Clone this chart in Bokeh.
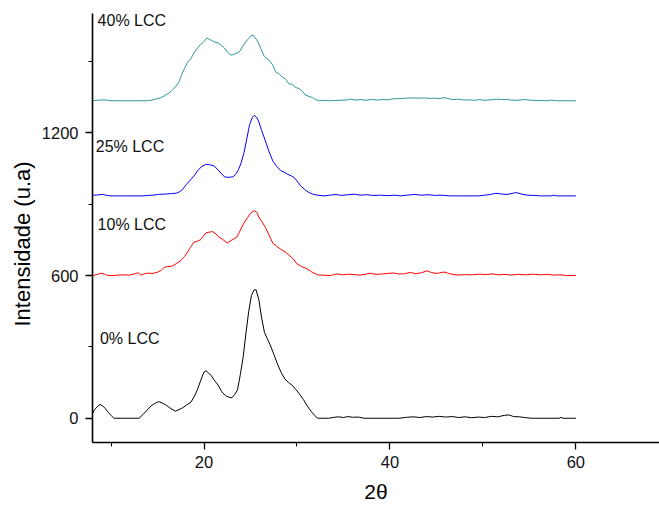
from bokeh.plotting import figure
from bokeh.models import FixedTicker, Range1d, ColumnDataSource, Title
from bokeh.core.properties import value
from bokeh.embed import file_html
from bokeh.resources import INLINE

# ---------------- data ----------------
series_names = ["0% LCC", "10% LCC", "25% LCC", "40% LCC"]
series_colors = ["#000000", "#ff0000", "#0000ff", "#2f9797"]
offsets = [0, 600, 935, 1335]

x0 = [8.0, 8.2, 8.5, 8.8, 9.1, 9.4, 9.7, 10.0, 10.3, 11.0, 12.0, 13.0, 13.5, 13.9, 14.3, 14.7,
      15.1, 15.5, 15.9, 16.3, 16.9, 17.3, 17.7, 18.1, 18.6, 19.0, 19.3, 19.7, 20.0, 20.2, 20.5,
      20.8, 21.1, 21.5, 21.9, 22.3, 22.7, 23.0, 23.3, 23.6, 23.9, 24.2, 24.5, 24.8, 25.1, 25.4,
      25.6, 25.9, 26.2, 26.5, 26.8, 27.1, 27.5, 27.9, 28.3, 28.7, 29.1, 29.5, 29.9, 30.3, 30.7,
      31.1, 31.5, 31.9, 32.2,
      32.6, 33.4, 34.0, 34.5, 35.0, 35.5, 36.0, 36.6, 37.2, 38.5, 40.0, 41.0, 41.8, 42.5, 43.2,
      43.9, 44.6, 45.3, 46.0, 46.7, 47.4, 48.1, 48.8, 49.5, 50.2, 50.9, 51.6, 52.3, 52.8, 53.3,
      53.9, 54.5, 55.2, 57.0, 58.2, 58.4, 58.6, 60.0]
y0 = [20, 35, 48, 58, 52, 40, 25, 12, 0, 0, 0, 0, 18, 35, 52, 62,
      70, 64, 56, 44, 30, 36, 44, 55, 68, 95, 122, 165, 195, 200, 190,
      178, 160, 140, 112, 95, 88, 86, 100, 119, 183, 255, 355, 448, 517, 540,
      540, 498, 421, 361, 335, 310, 270, 228, 192, 165, 150, 138, 120, 100, 78,
      52, 30, 12, 0,
      0, 0, 4, 6, 3, 7, 4, 5, 0, 0, 0, 0, 4, 6, 3,
      7, 5, 8, 5, 7, 3, 6, 2, 5, 3, 8, 6, 12, 14, 7,
      6, 3, 0, 0, 0, 4, 0, 0]

x10 = [8.0, 8.5, 8.9, 9.3, 9.6, 10.2, 10.8, 11.4, 12.0, 12.6, 12.9, 13.2, 13.6, 14.0, 14.5,
       15.0, 15.4, 15.7, 16.1, 16.6, 17.0, 17.5, 17.9, 18.2, 18.6, 18.9, 19.3, 19.6, 19.9, 20.2,
       20.5, 20.9, 21.3, 21.6, 22.0, 22.5, 22.8, 23.2, 23.5, 23.8, 24.2, 24.7, 25.0, 25.4, 25.7,
       25.9, 26.2, 26.6, 27.0, 27.4, 27.8, 28.2, 28.7, 29.1, 29.6, 30.0, 30.5, 31.1, 31.6, 32.2,
       33.6, 34.3, 35.0, 35.5, 36.2, 36.8, 37.4, 37.9, 38.5, 39.2, 39.8, 40.4, 41.0, 41.6, 42.2,
       42.8, 43.4, 44.0, 44.5, 45.1, 45.8, 46.4, 47.2, 48.0, 48.8, 49.6, 50.3, 51.0, 51.7, 52.4,
       53.0, 53.8, 54.6, 55.4, 56.2, 56.9, 57.6, 58.3, 59.0, 60.0]
y10 = [0, 4, 10, 6, 0, 0, 2, 3, 2, 8, 12, 2, 8, 10, 9,
       14, 22, 34, 38, 40, 50, 63, 80, 98, 122, 140, 145, 150, 165, 180,
       182, 185, 175, 161, 152, 137, 145, 154, 160, 182, 215, 245, 262, 273, 265,
       245, 228, 203, 170, 136, 124, 112, 100, 87, 70, 49, 38, 28, 15, 3,
       0, 7, 3, 6, 4, 2, 6, 10, 5, 7, 9, 11, 6, 8, 13,
       8, 12, 20, 12, 9, 15, 8, 2, 4, 3, 6, 4, 7, 3, 5,
       2, 5, 3, 6, 3, 5, 2, 3, 0, 0]

x25 = [8.0, 8.5, 9.1, 9.6, 10.0, 11.0, 12.0, 13.0, 13.4, 14.0, 14.5, 15.0, 15.5, 16.0, 16.5,
       17.0, 17.4, 17.7, 18.1, 18.6, 19.0, 19.3, 19.7, 20.2, 20.6, 21.1, 21.6, 22.2, 22.6, 23.1,
       23.4, 23.7, 24.0, 24.3, 24.6, 24.9, 25.2, 25.4, 25.7, 25.9, 26.2, 26.6, 27.0, 27.4, 27.8,
       28.3, 28.7, 29.0, 29.4, 29.7, 30.1, 30.4, 30.8, 31.2, 31.7, 32.2, 32.9,
       33.5, 34.2, 34.8, 35.5, 36.2, 36.8, 37.5, 38.2, 39.0, 39.8, 40.5, 41.2, 42.0, 42.7, 43.4,
       44.1, 44.8, 45.5, 46.5, 48.0, 49.5, 50.2, 50.8, 51.4, 52.0, 52.6, 53.2, 53.6, 54.2, 54.8,
       55.5, 56.2, 57.3, 57.6, 58.0, 60.0]
y25 = [3, 4, 6, 2, 0, 0, 0, 0, 0, 2, 3, 6, 7, 8, 10,
       11, 18, 28, 48, 70, 88, 105, 122, 133, 131, 126, 105, 80, 78, 80,
       90, 110, 140, 182, 240, 300, 330, 339, 328, 311, 275, 231, 185, 147, 125,
       105, 98, 91, 84, 77, 58, 42, 28, 16, 7, 3, 0,
       3, 6, 2, 5, 7, 3, 5, 2, 3, 1, 3, 0, 4, 6, 3,
       5, 2, 3, 0, 0, 0, 3, 6, 11, 8, 6, 11, 14, 7, 3,
       2, 0, 0, 3, 0, 0]

x40 = [8.0, 8.5, 9.3, 10.0, 11.0, 12.0, 13.0, 13.9, 14.4, 14.8, 15.3, 15.7, 16.2, 16.6, 17.0,
       17.3, 17.6, 17.9, 18.2, 18.6, 18.9, 19.3, 19.6, 19.9, 20.3, 20.6, 20.9, 21.1, 21.4, 21.6,
       21.9, 22.2, 22.5, 22.9, 23.2, 23.5, 23.8, 24.1, 24.5, 24.8, 25.0, 25.3, 25.5, 25.8, 26.1,
       26.5, 27.0, 27.4, 27.7, 28.1, 28.4, 28.8, 29.1, 29.5, 29.9, 30.2, 30.6, 30.9, 31.3, 31.7,
       32.0, 32.4,
       33.0, 33.6, 34.5, 35.3, 35.8, 36.3, 36.9, 37.4, 38.0, 38.6, 39.2, 39.8, 40.3, 40.8, 41.3,
       41.9, 42.5, 43.0, 43.6, 44.2, 44.8, 45.3, 45.8, 46.2, 46.7, 47.3, 47.9, 48.5, 49.1, 49.6,
       50.2, 50.8, 51.5, 52.0, 52.5, 53.0, 53.6, 54.2, 54.6, 55.2, 56.0, 57.0, 57.4, 57.8, 60.0]
y40 = [0, 2, 4, 0, 0, 0, 0, 0, 3, 7, 12, 20, 32, 45, 62,
       80, 110, 136, 160, 178, 200, 222, 236, 245, 264, 258, 252, 247, 245, 241,
       232, 222, 205, 192, 195, 200, 206, 225, 248, 262, 272, 276, 265, 248, 220,
       185, 171, 150, 122, 112, 101, 90, 73, 68, 55, 52, 40, 24, 18, 13,
       5, 0,
       2, 0, 2, 3, 7, 3, 5, 2, 6, 3, 5, 4, 8, 9, 10,
       11, 12, 11, 12, 10, 11, 9, 13, 10, 5, 7, 3, 4, 2, 5,
       2, 4, 7, 5, 6, 3, 2, 4, 5, 2, 1, 0, 3, 0, 0]

xs = [x0, x10, x25, x40]
ys = [y0, y10, y25, y40]

label_x = [8.8, 8.55, 8.35, 8.55]
label_y = [336, 815, 1142, 1673]

x_ticks = [20, 40, 60]
x_minor = [10, 30, 50]
y_ticks = [0, 600, 1200]
y_minor = [300, 900, 1500]

x_title = "2θ"
y_title = "Intensidade (u.a)"

# ---------------- figure ----------------
p = figure(width=659, height=505, output_backend="svg", toolbar_location=None,
           x_range=Range1d(8, 69), y_range=Range1d(-102, 1702),
           min_border_left=92, min_border_right=0, min_border_top=13, min_border_bottom=62)
p.background_fill_color = "white"
p.border_fill_color = "white"
p.outline_line_color = None
p.grid.visible = False

for xv, yv, off, col in zip(xs, ys, offsets, series_colors):
    src = ColumnDataSource(dict(x=xv, y=[v + off for v in yv]))
    p.line("x", "y", source=src, line_color=col, line_width=1)

lab_src = ColumnDataSource(dict(x=label_x, y=label_y, t=series_names))
p.text("x", "y", text="t", source=lab_src, text_font=value("Liberation Sans"),
       text_font_size="16px", text_baseline="middle", text_align="left", text_color="#111111")

for ax in (p.xaxis[0], p.yaxis[0]):
    ax.axis_line_color = "black"
    ax.axis_line_width = 1.6
    ax.major_tick_line_color = "black"
    ax.major_tick_line_width = 1.3
    ax.minor_tick_line_color = "black"
    ax.minor_tick_line_width = 1.0
    ax.major_tick_in = 0
    ax.major_tick_out = 7
    ax.minor_tick_in = 0
    ax.minor_tick_out = 4
    ax.major_label_text_font = "Liberation Sans"
    ax.major_label_text_font_size = "16.5px"
    ax.major_label_text_color = "#111111"
    ax.axis_label_text_font = "Liberation Sans"
    ax.axis_label_text_font_style = "normal"
    ax.axis_label_text_color = "black"

p.xaxis[0].ticker = FixedTicker(ticks=x_ticks, minor_ticks=x_minor)
p.yaxis[0].ticker = FixedTicker(ticks=y_ticks, minor_ticks=y_minor)
p.xaxis[0].axis_label = x_title
p.xaxis[0].axis_label_text_font_size = "21px"
p.xaxis[0].major_label_standoff = 6
p.yaxis[0].major_label_standoff = 7
p.xaxis[0].axis_label_standoff = 9

# y title: placed as a left-side title, starting a little above the frame bottom
ytitle = Title(text=y_title, align="left", offset=116, vertical_align="middle",
               text_font="Liberation Sans", text_font_size="22px",
               text_font_style="normal", text_color="black", standoff=6)
p.add_layout(ytitle, "left")

open("out.html", "w").write(file_html(p, INLINE))
